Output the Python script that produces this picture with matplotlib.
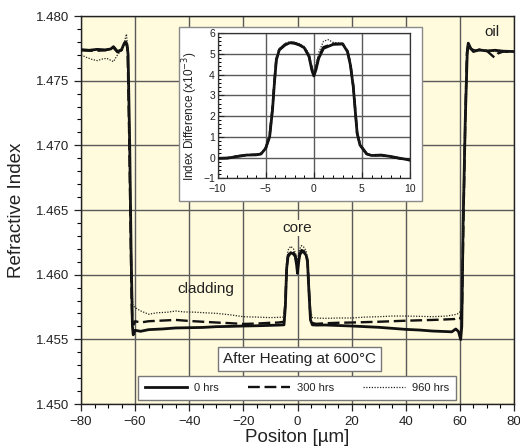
import matplotlib
matplotlib.use("Agg")
import matplotlib.pyplot as plt
from matplotlib.patches import Rectangle
from matplotlib.ticker import MultipleLocator, FormatStrFormatter

plt.rcParams["font.family"] = ["Liberation Sans", "DejaVu Sans"]

# ---- main profile: refractive index vs position (um) ----
hrs0 = [(-80, 1.47740), (-77, 1.47735), (-74, 1.47742), (-71, 1.47738), (-69, 1.47745),
        (-68, 1.47763), (-66.5, 1.47725), (-65, 1.47740), (-64, 1.47790), (-63.5, 1.47800),
        (-63, 1.47780), (-62.6, 1.4770), (-62, 1.4700), (-61.5, 1.4620), (-61, 1.4560),
        (-60.7, 1.45535), (-60, 1.45570), (-58, 1.45562), (-55, 1.45575), (-50, 1.45580),
        (-45, 1.45588), (-40, 1.45590), (-35, 1.45592), (-30, 1.45598), (-25, 1.45600),
        (-20, 1.45603), (-15, 1.45605), (-10, 1.45608), (-7, 1.45610), (-5, 1.45612),
        (-4.5, 1.4575), (-4, 1.4605), (-3.5, 1.4614), (-2.5, 1.4617), (-1.5, 1.4616),
        (-0.8, 1.4614), (-0.3, 1.4607), (0, 1.4601), (0.3, 1.4608), (0.8, 1.4615),
        (1.5, 1.4618), (2.5, 1.4617), (3.2, 1.4615), (3.7, 1.4610), (4.2, 1.4588),
        (4.8, 1.4565), (5.5, 1.45612), (7, 1.45610), (10, 1.45611), (15, 1.45607),
        (20, 1.45603), (25, 1.45598), (30, 1.45593), (35, 1.45585), (40, 1.45577),
        (45, 1.45572), (50, 1.45564), (55, 1.45560), (57, 1.45558), (58.5, 1.45580),
        (59.5, 1.45560), (60.3, 1.45498), (60.7, 1.4560), (61.2, 1.4640), (62, 1.4720),
        (62.7, 1.4770), (63.1, 1.47790), (64, 1.47750), (65, 1.47725), (67, 1.47738),
        (70, 1.47730), (73, 1.47735), (76, 1.47728), (80, 1.47725)]

hrs300 = [(-80, 1.47735), (-75, 1.47730), (-71, 1.47735), (-68, 1.47755), (-66.5, 1.47720),
          (-65, 1.47735), (-64, 1.47780), (-63.4, 1.47795), (-62.8, 1.4775), (-62.3, 1.4720),
          (-61.8, 1.4650), (-61.3, 1.4580), (-61, 1.4562), (-60.5, 1.45615), (-60, 1.45640),
          (-58, 1.45630), (-55, 1.45640), (-50, 1.45645), (-45, 1.45650), (-40, 1.45642),
          (-35, 1.45636), (-30, 1.45630), (-25, 1.45625), (-20, 1.45619), (-15, 1.45622),
          (-10, 1.45628), (-7, 1.45630), (-5, 1.45636), (-4.5, 1.4578), (-4, 1.4606),
          (-3.5, 1.4615), (-2.5, 1.4618), (-1.5, 1.4617), (-0.8, 1.4615), (-0.3, 1.4608),
          (0, 1.4603), (0.3, 1.4609), (0.8, 1.4616), (1.5, 1.4619), (2.5, 1.4618),
          (3.2, 1.4616), (3.7, 1.4611), (4.2, 1.4590), (4.8, 1.4567), (5.5, 1.45625),
          (7, 1.45620), (10, 1.45624), (15, 1.45628), (20, 1.45630), (25, 1.45633),
          (30, 1.45636), (35, 1.45640), (40, 1.45644), (45, 1.45647), (50, 1.45650),
          (55, 1.45654), (58, 1.45657), (59.5, 1.45670), (60.3, 1.4566), (60.8, 1.4575),
          (61.3, 1.4640), (62, 1.4720), (62.6, 1.4772), (63.1, 1.47785), (64, 1.47745),
          (66, 1.47730), (68, 1.47745), (70, 1.47730), (72.7, 1.47680), (74, 1.47710),
          (76, 1.47725), (80, 1.47722)]

hrs960 = [(-80, 1.47700), (-78, 1.47680), (-76, 1.47665), (-74, 1.47655), (-72, 1.47668),
          (-70.5, 1.47673), (-68, 1.47647), (-66.5, 1.47700), (-65, 1.47737), (-64, 1.47800),
          (-63.2, 1.47860), (-62.8, 1.4776), (-62.3, 1.4730), (-61.8, 1.4660), (-61.3, 1.4600),
          (-60.8, 1.4576), (-60, 1.45745), (-58, 1.45720), (-55, 1.45694), (-52, 1.45705),
          (-48, 1.45710), (-45, 1.45719), (-42, 1.45712), (-38, 1.45710), (-34, 1.45705),
          (-30, 1.45701), (-25, 1.45690), (-20, 1.45675), (-15, 1.45672), (-10, 1.45668),
          (-7, 1.45670), (-5, 1.45672), (-4.5, 1.4585), (-4, 1.4610), (-3.5, 1.4619),
          (-2.5, 1.4622), (-1.5, 1.4620), (-0.8, 1.4617), (-0.3, 1.4613), (0, 1.4611),
          (0.3, 1.4615), (0.8, 1.4620), (1.5, 1.46225), (2.5, 1.4621), (3.2, 1.4618),
          (3.7, 1.4612), (4.2, 1.4593), (4.8, 1.4572), (5.5, 1.45668), (7, 1.45665),
          (10, 1.45662), (15, 1.45665), (20, 1.45665), (25, 1.45672), (30, 1.45675),
          (35, 1.45680), (40, 1.45680), (45, 1.45678), (50, 1.45675), (55, 1.45680),
          (58, 1.45690), (59.5, 1.45700), (60.3, 1.4572), (60.8, 1.4590), (61.3, 1.4650),
          (62, 1.4730), (62.6, 1.4775), (63.1, 1.47780), (64, 1.47740), (66, 1.47728),
          (68, 1.47732), (70, 1.47730), (73, 1.47725), (76, 1.47730), (80, 1.47728)]

# ---- inset: index difference (x1e-3) across the core ----
dn0 = [(-10, -0.04), (-9, -0.03), (-8, 0.05), (-7, 0.12), (-6, 0.13), (-5.5, 0.17),
       (-5, 0.45), (-4.6, 1.0), (-4.3, 2.3), (-4.1, 3.6), (-3.9, 4.7), (-3.6, 5.18),
       (-3, 5.42), (-2.5, 5.53), (-2, 5.5), (-1.5, 5.42), (-1, 5.29), (-0.5, 4.86),
       (-0.2, 4.2), (0, 3.93), (0.2, 4.2), (0.5, 4.78), (1, 5.26), (2, 5.45), (3, 5.47),
       (3.5, 5.1), (3.8, 4.46), (4.1, 3.41), (4.3, 2.29), (4.5, 1.17), (4.8, 0.6),
       (5.5, 0.17), (6, 0.1), (7, 0.12), (8, 0.05), (9, -0.04), (10, -0.12)]
dn300 = [(-10, -0.03), (-9, -0.02), (-8, 0.06), (-7, 0.12), (-6, 0.14), (-5.5, 0.18),
         (-5, 0.47), (-4.6, 1.05), (-4.3, 2.4), (-4.1, 3.7), (-3.9, 4.75), (-3.6, 5.2),
         (-3, 5.45), (-2.5, 5.55), (-2, 5.52), (-1.5, 5.44), (-1, 5.3), (-0.5, 4.9),
         (-0.2, 4.25), (0, 3.98), (0.2, 4.25), (0.5, 4.85), (1, 5.32), (2, 5.48), (3, 5.48),
         (3.5, 5.12), (3.8, 4.5), (4.1, 3.45), (4.3, 2.3), (4.5, 1.2), (4.8, 0.62),
         (5.5, 0.18), (6, 0.1), (7, 0.11), (8, 0.04), (9, -0.05), (10, -0.13)]
dn960 = [(-10, -0.02), (-9, -0.01), (-8, 0.06), (-7, 0.13), (-6, 0.14), (-5.5, 0.2),
         (-5, 0.5), (-4.6, 1.1), (-4.3, 2.45), (-4.1, 3.75), (-3.9, 4.8), (-3.6, 5.25),
         (-3, 5.5), (-2.5, 5.58), (-2, 5.55), (-1.5, 5.47), (-1, 5.35), (-0.5, 5.0),
         (-0.2, 4.4), (0, 4.1), (0.2, 4.45), (0.5, 5.05), (1, 5.6), (1.5, 5.68), (2, 5.55),
         (3, 5.5), (3.5, 5.15), (3.8, 4.5), (4.1, 3.45), (4.3, 2.3), (4.5, 1.2), (4.8, 0.62),
         (5.5, 0.2), (6, 0.12), (7, 0.12), (8, 0.05), (9, -0.03), (10, -0.1)]

series_labels = ["0 hrs", "300 hrs", "960 hrs"]
styles = [dict(color="#111111", lw=2.0, ls="-"),
          dict(color="#111111", lw=1.7, ls=(0, (5, 2))),
          dict(color="#222222", lw=0.9, ls=(0, (1, 1.2)))]

BG = "#fffbdc"
GRID = "#5a5a5a"
TXT = "#222222"

fig = plt.figure(figsize=(5.2, 4.48), dpi=100)
ax = fig.add_axes([81 / 520, 44 / 448, 433 / 520, 388 / 448])
ax.set_facecolor(BG)
ax.set_zorder(0)

for pts, lab, st in zip([hrs0, hrs300, hrs960], series_labels, styles):
    xs, ys = zip(*pts)
    ax.plot(xs, ys, label=lab, zorder=3, **st)

ax.set_xlim(-80, 80)
ax.set_ylim(1.450, 1.480)
ax.xaxis.set_major_locator(MultipleLocator(20))
ax.xaxis.set_minor_locator(MultipleLocator(5))
ax.yaxis.set_major_locator(MultipleLocator(0.005))
ax.yaxis.set_minor_locator(MultipleLocator(0.001))
ax.yaxis.set_major_formatter(FormatStrFormatter("%.3f"))
ax.tick_params(which="major", direction="out", length=5, width=0.9, labelsize=9.5,
               colors=TXT)
ax.tick_params(which="minor", direction="out", length=3, width=0.8)
ax.grid(True, which="major", color=GRID, lw=1.0, zorder=1)
for s in ax.spines.values():
    s.set_color(TXT)
    s.set_linewidth(1.0)

ax.set_xlabel("Positon [µm]", fontsize=13.5, labelpad=1, color=TXT)
ax.set_ylabel("Refractive Index", fontsize=13.5, labelpad=8, color=TXT)

ax.text(-34, 1.4589, "cladding", ha="center", va="center", fontsize=11, color=TXT)
ax.text(0, 1.4636, "core", ha="center", va="center", fontsize=11, color=TXT,
        bbox=dict(boxstyle="square,pad=0.05", fc=BG, ec="none"), zorder=4)
ax.text(72, 1.4788, "oil", ha="center", va="center", fontsize=11, color=TXT)
ax.text(0.7, 1.45348, "After Heating at 600°C", ha="center", va="center", fontsize=11,
        color=TXT, zorder=5,
        bbox=dict(boxstyle="square,pad=0.32", fc="white", ec="#777777", lw=1.0))

leg = ax.legend(loc="center", bbox_to_anchor=(0.1316, 0.0129, 0.7344, 0.0575),
                mode="expand", borderaxespad=0, ncol=3, fontsize=8,
                handlelength=3.8, handletextpad=0.65, borderpad=0.6,
                frameon=True, fancybox=False, framealpha=1)
leg.get_frame().set_edgecolor("#777777")
leg.get_frame().set_linewidth(1.0)
leg.set_zorder(6)
for t in leg.get_texts():
    t.set_color(TXT)

# white panel behind the inset
panel = Rectangle((179 / 520, (448 - 200.7) / 448), 243 / 520, 173.7 / 448,
                  transform=fig.transFigure, fc="white", ec="#8a8a8a", lw=1.0, zorder=1)
fig.patches.append(panel)

ins = fig.add_axes([217.7 / 520, (448 - 178.3) / 448, 192.3 / 520, 145.3 / 448])
ins.set_zorder(2)
ins.set_facecolor("white")
for pts, st in zip([dn0, dn300, dn960], styles):
    xs, ys = zip(*pts)
    ins.plot(xs, ys, zorder=3, **st)
ins.set_xlim(-10, 10)
ins.set_ylim(-1, 6)
ins.xaxis.set_major_locator(MultipleLocator(5))
ins.xaxis.set_minor_locator(MultipleLocator(1))
ins.yaxis.set_major_locator(MultipleLocator(1))
ins.yaxis.set_minor_locator(MultipleLocator(0.2))
ins.tick_params(which="major", direction="in", length=4, width=0.8, labelsize=7.5,
                colors=TXT)
ins.tick_params(axis="x", which="major", pad=4)
ins.tick_params(axis="y", which="major", pad=2)
ins.tick_params(which="minor", direction="in", length=2, width=0.7)
ins.grid(True, which="major", color=GRID, lw=1.0, zorder=1)
for s in ins.spines.values():
    s.set_color("#333333")
    s.set_linewidth(0.9)
ins.set_ylabel("Index Difference (x10$^{-3}$)", fontsize=8.5, color=TXT)
ins.yaxis.set_label_coords(-0.09, 0.43)

fig.savefig("out.png", dpi=100)
